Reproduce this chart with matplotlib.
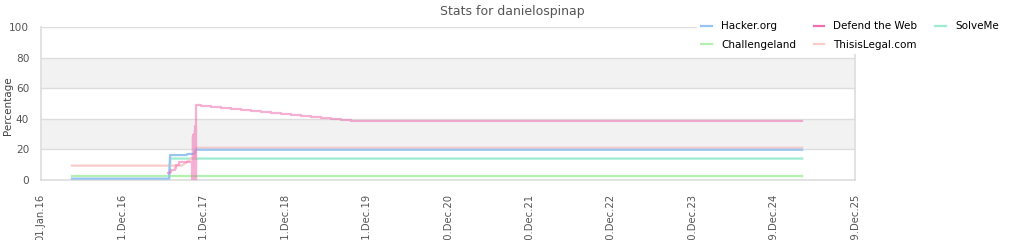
import matplotlib
matplotlib.use("Agg")
import matplotlib.pyplot as plt
from datetime import datetime, timedelta

plt.rcParams['font.family'] = ['DejaVu Sans']

title = "Stats for danielospinap"
ylabel = "Percentage"

hacker_dates = ["2016-05-20", "2017-07-29", "2017-08-03", "2017-10-16", "2017-10-20",
                "2017-11-18", "2017-11-27", "2025-05-06"]
hacker_vals = [0.9, 0.9, 16.3, 16.3, 17.0, 17.0, 19.8, 19.8]

chal_dates = ["2016-05-20", "2025-05-06"]
chal_vals = [2.8, 2.8]

solve_dates = ["2017-07-30", "2017-08-05", "2025-05-06"]
solve_vals = [0.0, 14.0, 14.0]

legal_dates = ["2016-05-20", "2017-09-25", "2017-11-09", "2017-11-23", "2017-11-27", "2025-05-06"]
legal_vals = [9.4, 9.4, 14.2, 14.5, 21.1, 21.1]

dtw_dates = ["2017-07-26", "2017-08-02", "2017-08-09", "2017-08-23", "2017-08-30", "2017-09-12",
             "2017-11-09", "2017-11-10", "2017-11-12", "2017-11-13", "2017-11-15", "2017-11-16",
             "2017-11-18", "2017-11-19", "2017-11-21", "2017-11-22", "2017-11-24", "2017-11-25",
             "2017-11-27",
             "2017-12-19", "2018-02-02", "2018-03-19", "2018-05-03", "2018-06-17", "2018-08-01",
             "2018-09-14", "2018-10-29", "2018-12-13", "2019-01-27", "2019-03-13", "2019-04-27",
             "2019-06-10", "2019-07-25", "2019-09-08", "2019-10-23", "2025-05-06"]
dtw_vals = [4.4, 5.4, 6.5, 7.6, 9.8, 12.0,
            12.0, 0.0, 28.0, 0.0, 29.5, 0.0,
            30.0, 0.0, 33.0, 0.0, 35.0, 0.0,
            49.2,
            48.6, 47.9, 47.3, 46.6, 45.9, 45.3,
            44.6, 43.9, 43.3, 42.6, 41.9, 41.3,
            40.6, 39.9, 39.2, 38.6, 38.6]

def d(lst):
    return [datetime.strptime(s, "%Y-%m-%d") for s in lst]

fig = plt.figure(figsize=(10.24, 2.4), dpi=100)
ax = fig.add_axes([40.7/1024, 1-180/240, (855-40.7)/1024, 153/240])

start = datetime(2016, 1, 1)
ticks = [start + timedelta(days=365*k) for k in range(11)]
ax.set_xlim(ticks[0], ticks[-1])
ax.set_ylim(0, 100)

for lo, hi in [(20, 40), (60, 80)]:
    ax.axhspan(lo, hi, color='#f2f2f2', lw=0, zorder=0)
for yv in [20, 40, 60, 80, 100]:
    ax.axhline(yv, color='#dddddd', lw=1, zorder=0.5)

lw = 1.6
l_h, = ax.plot(d(hacker_dates), hacker_vals, color='#98c4f2', lw=lw, zorder=3, label='Hacker.org')
l_c, = ax.plot(d(chal_dates), chal_vals, color='#b4f0b0', lw=lw, zorder=2, label='Challengeland')
l_d, = ax.plot(d(dtw_dates), dtw_vals, color='#ee6fb0', alpha=0.55, lw=lw, zorder=5,
               drawstyle='steps-post', label='Defend the Web')
l_l, = ax.plot(d(legal_dates), legal_vals, color='#f9cccc', lw=lw, zorder=2.5, label='ThisisLegal.com')
l_s, = ax.plot(d(solve_dates), solve_vals, color='#9eecd0', lw=lw, zorder=2.2, label='SolveMe')

ax.set_xticks(ticks)
ax.set_xticklabels([t.strftime('%d.%b.%y') for t in ticks], rotation=90, fontsize=7.2, color='#555555')
ax.tick_params(axis='x', length=0, pad=10)
ax.set_yticks([0, 20, 40, 60, 80, 100])
ax.tick_params(axis='y', length=0, pad=8.2, labelsize=7.6, labelcolor='#555555')
for side in ['left', 'bottom', 'right']:
    ax.spines[side].set_color('#dddddd')
    ax.spines[side].set_linewidth(1.2)
ax.spines['top'].set_visible(False)

fig.text(8/1024, 1-106/240, ylabel, rotation=90, ha='center', va='center', fontsize=7.5, color='#444444')
fig.text(0.5, 1-12/240, title, ha='center', va='center', fontsize=9, color='#555555')

leg = fig.legend(handles=[l_h, l_c, l_d, l_l, l_s], ncol=3, loc='upper left',
                 bbox_to_anchor=(697/1024, 1-17/240), fontsize=7.5, frameon=True,
                 facecolor='white', edgecolor='none', framealpha=1, fancybox=False,
                 handlelength=1.0, handletextpad=0.9, columnspacing=1.7, labelspacing=0.85,
                 borderpad=0.4, borderaxespad=0)
for h in leg.legend_handles:
    h.set_alpha(1)
leg.set_zorder(10)

fig.savefig("out.png", dpi=100)
